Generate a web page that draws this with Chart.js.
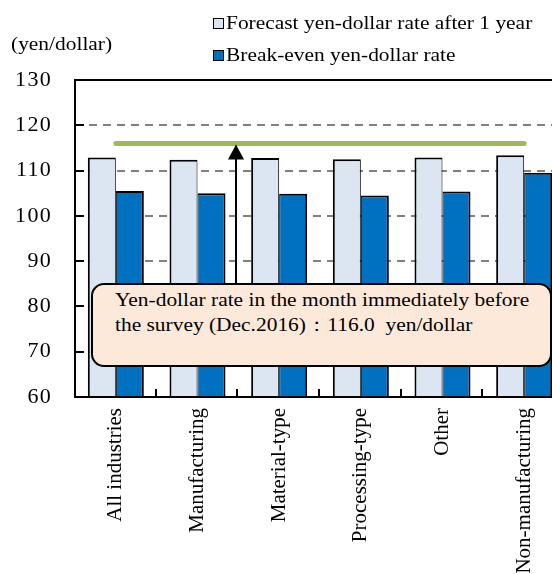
<!DOCTYPE html>
<html>
<head>
<meta charset="utf-8">
<script src="https://cdn.jsdelivr.net/npm/chart.js@4/dist/chart.umd.min.js"></script>
<style>
  html, body { margin: 0; padding: 0; overflow: hidden; background: #fff; }
  body { width: 552px; height: 574px; position: relative; }
  #chart { position: absolute; left: 0; top: 0; }
  .txt {
    position: absolute; white-space: pre; color: #000;
    font-family: 'Liberation Serif', 'Times New Roman', serif;
    font-size: 18px; line-height: 20px;
    transform: scaleX(1.19); transform-origin: 0 0;
  }
  .swatch { position: absolute; width: 11px; height: 11px; box-sizing: border-box; border: 1.5px solid #000; }
  #note {
    position: absolute; left: 91px; top: 283px; width: 461px; height: 84px;
    box-sizing: border-box; border: 2px solid #000; border-radius: 13px;
    background: #fde9d9;
  }
  #note .txt { line-height: 25px; left: 22px; top: 3px; }
</style>
</head>
<body>
<canvas id="chart" width="570" height="574"></canvas>

<div class="txt" style="left:11px; top:34px;">(yen/dollar)</div>

<div class="swatch" id="sw1" style="left:213px; top:18px;"></div>
<div class="txt" id="lg1" style="left:226px; top:13px;"></div>
<div class="swatch" id="sw2" style="left:213px; top:50px;"></div>
<div class="txt" id="lg2" style="left:226px; top:45px;"></div>

<div id="note"><div class="txt" id="noteText"></div></div>

<script>
// Categories and series
const categories = ['All industries', 'Manufacturing', 'Material-type', 'Processing-type', 'Other', 'Non-manufacturing'];
const forecastRate = [112.9, 112.4, 112.8, 112.5, 112.9, 113.4];
const breakEvenRate = [105.5, 105.0, 104.9, 104.5, 105.4, 109.5];
const seriesNames = ['Forecast yen-dollar rate after 1 year', 'Break-even yen-dollar rate'];
const seriesColors = ['#dce6f2', '#0070c0'];

// Rate in the month before the survey (Dec. 2016)
const surveyMonthRate = 116.0;
const surveyMonthLabel = 'Dec.2016';

// Value axis
const yTicks = [60, 70, 80, 90, 100, 110, 120, 130];

const serif = "'Liberation Serif', 'Times New Roman', serif";

// Legend and note texts
document.getElementById('lg1').textContent = seriesNames[0];
document.getElementById('lg2').textContent = seriesNames[1];
document.getElementById('sw1').style.background = seriesColors[0];
document.getElementById('sw2').style.background = seriesColors[1];
document.getElementById('noteText').textContent =
  'Yen-dollar rate in the month immediately before\nthe survey (' + surveyMonthLabel + ')：' +
  surveyMonthRate.toFixed(1) + '  yen/dollar';

// Frame, dashed grid, inward ticks and the arrow up to the reference line
const framePlugin = {
  id: 'frame',
  beforeDraw(chart) {
    // slightly spaced digits on the value axis
    chart.ctx.letterSpacing = '1.3px';
  },
  beforeDatasetsDraw(chart) {
    const { ctx, chartArea: a, scales: { y } } = chart;
    ctx.letterSpacing = '0px';
    ctx.save();
    ctx.strokeStyle = '#808080';
    ctx.lineWidth = 2;
    ctx.setLineDash([8, 6]);
    yTicks.forEach(v => {
      if (v > y.min && v < y.max) {
        const py = Math.round(y.getPixelForValue(v));
        ctx.beginPath();
        ctx.moveTo(a.left, py);
        ctx.lineTo(a.right, py);
        ctx.stroke();
      }
    });
    ctx.restore();
  },
  afterDatasetsDraw(chart) {
    const { ctx, chartArea: a, scales: { x, y } } = chart;
    ctx.save();
    ctx.strokeStyle = '#000';
    ctx.fillStyle = '#000';
    ctx.lineWidth = 2;
    ctx.setLineDash([]);
    // axis frame
    ctx.beginPath();
    ctx.moveTo(a.right + 5, a.top);
    ctx.lineTo(a.left, a.top);
    ctx.lineTo(a.left, a.bottom);
    ctx.lineTo(a.right + 5, a.bottom);
    ctx.stroke();
    // inward value ticks
    yTicks.forEach(v => {
      const py = Math.round(y.getPixelForValue(v));
      ctx.beginPath();
      ctx.moveTo(a.left, py);
      ctx.lineTo(a.left + 9, py);
      ctx.stroke();
    });
    // inward category boundary ticks
    for (let i = 1; i < categories.length; i++) {
      const px = Math.round((x.getPixelForValue(i - 1) + x.getPixelForValue(i)) / 2) - 1;
      ctx.beginPath();
      ctx.moveTo(px, a.bottom);
      ctx.lineTo(px, a.bottom - 8);
      ctx.stroke();
    }
    // arrow from the note box up to the reference line
    const ax = Math.round((x.getPixelForValue(1) + x.getPixelForValue(2)) / 2) - 2;
    const tipY = y.getPixelForValue(surveyMonthRate) + 1;
    ctx.beginPath();
    ctx.moveTo(ax, 284);
    ctx.lineTo(ax, tipY + 12);
    ctx.stroke();
    ctx.beginPath();
    ctx.moveTo(ax, tipY);
    ctx.lineTo(ax - 8, tipY + 15);
    ctx.lineTo(ax + 8, tipY + 15);
    ctx.closePath();
    ctx.fill();
    ctx.restore();
  }
};

new Chart(document.getElementById('chart'), {
  type: 'bar',
  data: {
    labels: categories,
    datasets: [
      {
        type: 'line',
        label: 'Yen-dollar rate (' + surveyMonthLabel + ')',
        data: [
          { x: categories[0], y: surveyMonthRate },
          { x: categories[categories.length - 1], y: surveyMonthRate }
        ],
        borderColor: '#9bbb59',
        borderWidth: 5,
        borderCapStyle: 'round',
        pointRadius: 0,
        fill: false
      },
      {
        label: seriesNames[0],
        data: forecastRate,
        backgroundColor: seriesColors[0],
        borderColor: '#000',
        borderWidth: { top: 2, left: 2, right: 1, bottom: 0 },
        borderSkipped: false
      },
      {
        label: seriesNames[1],
        data: breakEvenRate,
        backgroundColor: seriesColors[1],
        borderColor: '#000',
        borderWidth: { top: 2, left: 1, right: 2, bottom: 0 },
        borderSkipped: false
      }
    ]
  },
  options: {
    responsive: false,
    animation: false,
    devicePixelRatio: 1,
    layout: { padding: { top: 80, right: 5, left: 0, bottom: 0 } },
    datasets: {
      bar: { categoryPercentage: 0.686, barPercentage: 1.0 }
    },
    plugins: {
      legend: { display: false },
      tooltip: { enabled: false }
    },
    scales: {
      x: {
        grid: { display: false, drawTicks: false },
        border: { display: false },
        ticks: {
          z: 1,
          autoSkip: false,
          minRotation: 90,
          maxRotation: 90,
          padding: 11,
          color: '#000',
          font: { family: serif, size: 21 }
        },
        afterFit(scale) { scale.height = 177; }
      },
      y: {
        min: yTicks[0],
        max: yTicks[yTicks.length - 1],
        grid: { display: false, drawTicks: false },
        border: { display: false },
        afterBuildTicks(scale) { scale.ticks = yTicks.map(v => ({ value: v })); },
        ticks: {
          padding: 23,
          color: '#000',
          font: { family: serif, size: 22 }
        },
        afterFit(scale) { scale.width = 75; }
      }
    }
  },
  plugins: [framePlugin]
});
</script>
</body>
</html>
